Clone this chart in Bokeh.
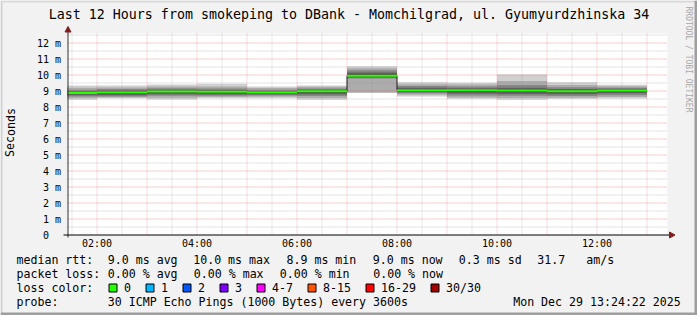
from bokeh.plotting import figure
from bokeh.models import Range1d
from bokeh.core.properties import value
from bokeh.embed import file_html
from bokeh.resources import INLINE

# ---------------- data ----------------
start_hour = 1 + 24 / 60 + 22 / 3600          # 01:24:22
end_hour = start_hour + 12                     # 13:24:22
bar_start = [start_hour, 2, 3, 4, 5, 6, 7, 8, 9, 10, 11, 12]
bar_end = [2, 3, 4, 5, 6, 7, 8, 9, 10, 11, 12, 13]

median_ms = [8.88, 8.90, 8.97, 8.96, 8.90, 8.98, 9.96, 9.05, 9.04, 9.03, 8.98, 9.03]
smoke_max = [9.34, 9.35, 9.41, 9.45, 9.28, 9.34, 10.55, 9.55, 9.51, 10.03, 9.55, 9.39]
smoke_hi2 = [9.20, 9.22, 9.28, 9.28, 9.18, 9.26, 10.42, 9.42, 9.40, 9.62, 9.38, 9.30]
smoke_hi3 = [9.08, 9.12, 9.17, 9.15, 9.08, 9.16, 10.30, 9.32, 9.28, 9.38, 9.24, 9.21]
smoke_hi4 = [8.97, 9.03, 9.08, 9.06, 9.00, 9.08, 10.16, 9.20, 9.17, 9.20, 9.12, 9.14]
smoke_hi5 = [8.92, 8.96, 9.02, 9.00, 8.94, 9.02, 10.04, 9.11, 9.09, 9.09, 9.04, 9.08]
smoke_lo5 = [8.83, 8.82, 8.90, 8.88, 8.84, 8.90, 9.90, 8.98, 8.96, 8.94, 8.90, 8.96]
smoke_lo4 = [8.74, 8.74, 8.80, 8.78, 8.78, 8.80, 9.84, 8.92, 8.85, 8.82, 8.80, 8.86]
smoke_lo3 = [8.66, 8.66, 8.70, 8.70, 8.72, 8.68, 9.78, 8.86, 8.72, 8.70, 8.68, 8.74]
smoke_lo2 = [8.56, 8.60, 8.58, 8.62, 8.64, 8.56, 8.90, 8.76, 8.60, 8.56, 8.58, 8.62]
smoke_min = [8.45, 8.55, 8.47, 8.55, 8.55, 8.45, 8.88, 8.65, 8.51, 8.45, 8.51, 8.53]

y_top = 12.59
y_ticks = list(range(13))
y_tick_labels = ["0\u00a0\u00a0"] + [f"{v} m" for v in range(1, 13)]
y_major_grid = list(range(1, 13))
y_minor_grid = [v + 0.5 for v in range(13)]
x_ticks = [2, 4, 6, 8, 10, 12]
x_tick_labels = ["02:00", "04:00", "06:00", "08:00", "10:00", "12:00"]
x_major_grid = list(range(2, 14))
x_minor_grid = [h + 0.5 for h in range(1, 13)]

title_text = "Last 12 Hours from smokeping to DBank - Momchilgrad, ul. Gyumyurdzhinska 34"
y_axis_title = "Seconds"
watermark = "RRDTOOL / TOBI OETIKER"

rtt_texts = ["median rtt:", "9.0 ms avg", "10.0 ms max", "8.9 ms min",
             "9.0 ms now", "0.3 ms sd", "31.7", "am/s"]
loss_texts = ["packet loss:", "0.00 % avg", "0.00 % max", "0.00 % min", "0.00 % now"]
loss_color_title = "loss color:"
loss_labels = ["0", "1", "2", "3", "4-7", "8-15", "16-29", "30/30"]
loss_colors = ["#26ff00", "#00b8ff", "#0059ff", "#7e00ff", "#ff00ff", "#ff5500", "#ff0000", "#a00000"]
probe_texts = ["probe:", "30 ICMP Echo Pings (1000 Bytes) every 3600s", "Mon Dec 29 13:24:22 2025"]

# ---------------- layout (pixels, top-down) ----------------
W, H = 697, 315
PX_PER_H = 50.0
PX_HOUR2 = 96.5          # column centre of 02:00
PX_PER_MS = 16.0
PY_ZERO = 234.5          # row centre of 0 ms

def PY(py):
    return H - py

def t_at(px):
    return 2 + (px - PX_HOUR2) / PX_PER_H

def v_at(py):
    return (PY_ZERO - py) / PX_PER_MS

MONO = value("DejaVu Sans Mono")

p = figure(width=W, height=H, x_range=Range1d(0, W), y_range=Range1d(0, H),
           x_axis_location=None, y_axis_location=None, title=None,
           output_backend="svg", toolbar_location=None, min_border=0,
           background_fill_color="#f2f2f2", border_fill_color="#f2f2f2",
           outline_line_color=None)
p.grid.visible = False
p.extra_x_ranges = {"time": Range1d(t_at(0), t_at(W))}
p.extra_y_ranges = {"ms": Range1d(v_at(H), v_at(0))}
D = dict(x_range_name="time", y_range_name="ms")

# frame shading
p.quad(left=[0, 0, 694, 0], right=[2, W, W, W], bottom=[0, PY(2), 0, 0], top=[H, H, H, PY(312)],
       fill_color=["#d0d0d0", "#d8d8d8", "#9e9e9e", "#9e9e9e"], line_color=None)

# white canvas of the graph
p.quad(left=[start_hour], right=[end_hour], bottom=[0], top=[y_top], fill_color="white",
       line_color=None, **D)

# smoke layers, outer (light) to inner (dark)
layers = [(smoke_min, smoke_max, "#d0d0d0"),
          (smoke_lo2, smoke_hi2, "#acacac"),
          (smoke_lo3, smoke_hi3, "#868686"),
          (smoke_lo4, smoke_hi4, "#606060"),
          (smoke_lo5, smoke_hi5, "#3c3c3c")]
for lo, hi, col in layers:
    p.quad(left=bar_start, right=bar_end, bottom=lo, top=hi, fill_color=col, line_color=None, **D)

# grid (drawn over the smoke, like rrdtool); dash phase aligned to whole pixels
g_left, g_right = t_at(67), t_at(667)
g_bot, g_top = v_at(234), v_at(33)

def hgrid(vals, col, alpha):
    n = len(vals)
    p.segment(x0=[g_left] * n, x1=[g_right] * n, y0=vals, y1=vals, line_color=col,
              line_alpha=alpha, line_dash="1 1", line_width=1, **D)

def vgrid(vals, col, alpha):
    n = len(vals)
    p.segment(x0=vals, x1=vals, y0=[g_bot] * n, y1=[g_top] * n, line_color=col,
              line_alpha=alpha, line_dash="1 1", line_width=1, **D)

hgrid(y_minor_grid, "#8f8f8f", 0.5)
vgrid(x_minor_grid, "#8f8f8f", 0.4)
hgrid(y_major_grid, "#de5050", 0.55)
vgrid(x_major_grid, "#de5050", 0.4)

# median line
p.step(x=bar_start + [bar_end[-1]], y=median_ms + [median_ms[-1]], mode="after",
       line_color="#202020", line_width=1, **D)
p.segment(x0=bar_start, y0=median_ms, x1=bar_end, y1=median_ms,
          line_color=loss_colors[0], line_width=2, **D)

# axes with arrows
axis_col = "#2c2c2c"
head_col = "#7f1f1f"
p.segment(x0=[67.5, 63], y0=[PY(237), PY(234.5)], x1=[67.5, 669], y1=[PY(30), PY(234.5)],
          line_color=[axis_col, "#000000"], line_width=1)
p.patch(x=[64.5, 67.5, 70.5], y=[PY(31.5), PY(26), PY(31.5)], fill_color=head_col, line_color=head_col)
p.patch(x=[669, 674.5, 669], y=[PY(231.5), PY(234.5), PY(237.5)], fill_color=head_col, line_color=head_col)

# tick labels
p.text(x=[60.5] * len(y_ticks), y=y_ticks, text=y_tick_labels, x_range_name="default",
       y_range_name="ms", text_font=MONO, text_font_size=value("10px"), text_color="black",
       text_align="right", text_baseline="middle")
p.text(x=x_ticks, y=[PY(243)] * len(x_ticks), text=x_tick_labels, x_range_name="time",
       y_range_name="default", text_font=MONO, text_font_size=value("10px"), text_color="black",
       text_align="center", text_baseline="middle")

def texts(xs, py, items, size="11.6px", align="left", angle=0.0, color="black"):
    p.text(x=xs, y=[PY(py)] * len(xs), text=items, text_font=MONO,
           text_font_size=value(size), text_color=color, text_align=align,
           text_baseline="middle", angle=angle)

# title and side texts
texts([348.5], 13.5, [title_text], size="13.3px", align="center")
texts([10], 132, [y_axis_title], size="11.6px", align="center", angle=1.5707963)
texts([688], 59, [watermark], size="8px", align="center", angle=-1.5707963, color="#a8a8a8")

# legend
texts([16, 107.3, 192.7, 286, 372.3, 458.3, 536.7, 585.7], 259, rtt_texts)
texts([16, 107.3, 193.3, 279.3, 372.7], 273, loss_texts)
texts([16], 287, [loss_color_title])
sw_x = [108.5, 145.5, 182.5, 219.5, 256.5, 307.5, 365.5, 430.5]
p.quad(left=sw_x, right=[x + 8 for x in sw_x], top=[PY(283.5)] * 8, bottom=[PY(291.5)] * 8,
       fill_color=loss_colors, line_color="black", line_width=1)
texts([x + 15 for x in sw_x], 287, loss_labels)
texts([16, 107.3, 512.7], 301, probe_texts)

open("out.html", "w").write(file_html(p, INLINE))
